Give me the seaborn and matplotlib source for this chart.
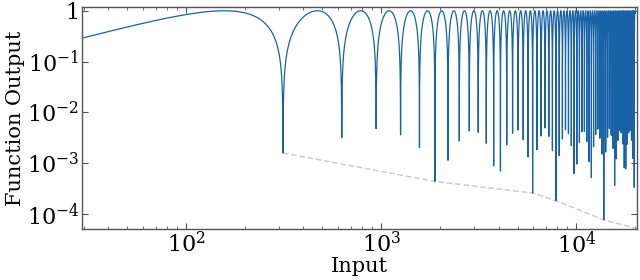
import numpy as np
import pandas as pd
import matplotlib
matplotlib.use("Agg")
import matplotlib.pyplot as plt
import matplotlib.ticker as mticker
import seaborn as sns

# ── data ──────────────────────────────────────────────────────────────────────
# curve is the plotted function |sin(x / 100)| sampled on the integer inputs
x_start, x_stop = 1, 20000
x_scale = 100.0
x_input = np.arange(x_start, x_stop + 1)
y_output = np.abs(np.sin(x_input / x_scale))

# lower envelope (dashed grey)
env_x = [314, 1885, 5969, 7854, 13823, 35500]
env_y = [1.6e-3, 4.4e-4, 2.6e-4, 1.85e-4, 7.7e-5, 3.0e-5]

y_ticks = [1e-4, 1e-3, 1e-2, 1e-1, 1]
y_ticklabels = [r"$10^{-4}$", r"$10^{-3}$", r"$10^{-2}$", r"$10^{-1}$", "1"]

df = pd.DataFrame({"Input": x_input, "Output": y_output})
env = pd.DataFrame({"Input": env_x, "Output": env_y})

# ── style ─────────────────────────────────────────────────────────────────────
sns.set_style("ticks")
plt.rcParams["font.family"] = ["DejaVu Serif"]
plt.rcParams["mathtext.fontset"] = "dejavuserif"
plt.rcParams["text.color"] = "black"
plt.rcParams["axes.labelcolor"] = "black"
plt.rcParams["xtick.labelcolor"] = "black"
plt.rcParams["ytick.labelcolor"] = "black"

fig, ax = plt.subplots(figsize=(6.4, 2.8), dpi=100)
fig.subplots_adjust(left=0.128, right=0.995, bottom=0.182, top=0.974)

sns.lineplot(data=env, x="Input", y="Output", ax=ax, color="#c8c8c8",
             lw=1.0, linestyle=(0, (4, 2)), estimator=None, zorder=1)
sns.lineplot(data=df, x="Input", y="Output", ax=ax, color="#1a62a8",
             lw=0.9, estimator=None, sort=False, zorder=2)

ax.set_xscale("log")
ax.set_yscale("log")
ax.set_xlim(29.3, 20400)
ax.set_ylim(5.1e-5, 1.17)

ax.set_yticks(y_ticks)
ax.set_yticklabels(y_ticklabels)
ax.yaxis.set_minor_locator(mticker.NullLocator())
ax.xaxis.set_minor_locator(mticker.LogLocator(base=10, subs=np.arange(2, 10)))
ax.xaxis.set_minor_formatter(mticker.NullFormatter())

ax.tick_params(which="both", direction="in", top=True, right=True,
               color="#555555", labelsize=16, pad=2)
ax.tick_params(which="major", length=4)
ax.tick_params(which="minor", length=2)
for s in ax.spines.values():
    s.set_color("#555555")
    s.set_linewidth(1.0)

ax.set_xlabel("Input", fontsize=15, labelpad=-1)
ax.set_ylabel("Function Output", fontsize=15, labelpad=1)

fig.savefig("out.png", dpi=100)
